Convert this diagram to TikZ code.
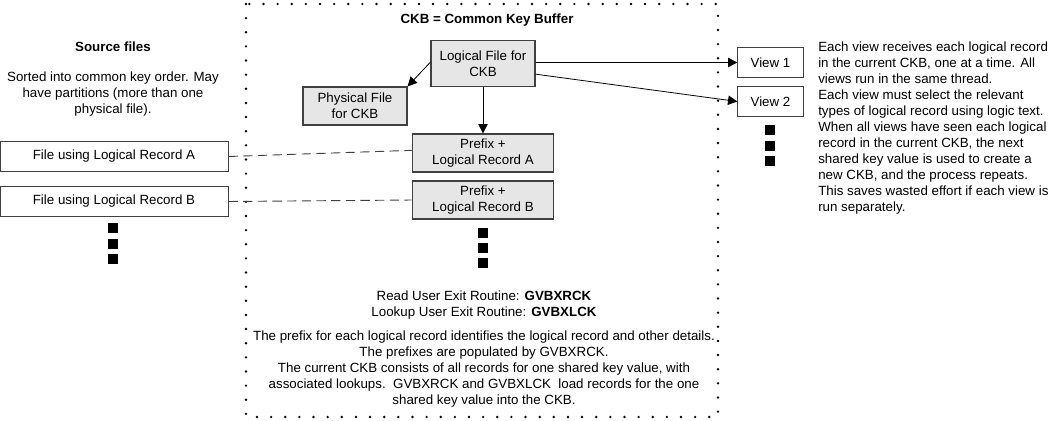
\documentclass[tikz,border=0pt]{standalone}
\usepackage{fontspec}
\setmainfont{Liberation Sans}
\usetikzlibrary{arrows.meta}
\usetikzlibrary{positioning}
\definecolor{boxfill}{RGB}{230,230,230}
\definecolor{boxline}{RGB}{64,64,64}
\tikzset{
  filebox/.style={draw=boxline,fill=boxfill,line width=0.9pt,inner sep=0pt,align=center},
  plainbox/.style={draw=boxline,fill=white,line width=0.7pt,inner sep=0pt,align=center},
  blob/.style={fill=black,inner sep=0pt,minimum size=7.5pt},
  feed/.style={-{Triangle[length=7pt,width=7pt]},line width=0.6pt},
  link/.style={dashed,dash pattern=on 7pt off 4pt,draw=boxline,line width=0.7pt},
}
\begin{document}
\begin{tikzpicture}[x=0.75pt,y=-0.75pt,font=\fontsize{10}{12}\selectfont]
\useasboundingbox (0,0) rectangle (1054,421);

				    % The buffer
				    \draw [dash pattern=on 0pt off 10.6pt,line cap=round,line width=2pt] (246,4) rectangle (718,417);
				    \node (ckb) at (487,20) {\bfseries CKB = Common Key Buffer};

				    % Place nodes
				    \node [filebox,minimum width=78pt,minimum height=35pt] (logical) at (483,63.5) {Logical File for\\CKB};
				    \node [filebox,minimum width=78pt,minimum height=28.5pt] (physical) at (355,106) {Physical File\\for CKB};
				    \node [filebox,minimum width=106pt,minimum height=28.5pt] (recA) at (483,153) {Prefix +\\Logical Record A};
				    \node [filebox,minimum width=106pt,minimum height=28.5pt] (recB) at (483,200) {Prefix +\\Logical Record B};
				    \node [blob] (ma1) at (483,233) {};
				    \node [blob] (ma2) at (483,248) {};
				    \node [blob] (ma3) at (483,263) {};

				    \node [align=center] (exits) at (484,305.5) {Read User Exit Routine: \textbf{GVBXRCK}\\Lookup User Exit Routine: \textbf{GVBXLCK}};
				    \node [align=center] (notes) at (484,369) {The prefix for each logical record identifies the logical record and other details.\\The prefixes are populated by GVBXRCK.\\The current CKB consists of all records for one shared key value, with\\associated lookups.\ \ GVBXRCK and GVBXLCK\ \ load records for the one\\shared key value into the CKB.};

				    % Source files
				    \node (src) at (113,47) {\bfseries Source files};
				    \node [align=center] (srcnote) at (113,94) {Sorted into common key order. May\\have partitions (more than one\\physical file).};
				    \node [plainbox,minimum width=171pt,minimum height=22pt] (fileA) at (114,156.5) {File using Logical Record A};
				    \node [plainbox,minimum width=171pt,minimum height=22pt] (fileB) at (114,201.5) {File using Logical Record B};
				    \node [blob] (mf1) at (113,228) {};
				    \node [blob] (mf2) at (113,243.5) {};
				    \node [blob] (mf3) at (113,259) {};

				    % Views
				    \node [plainbox,minimum width=49pt,minimum height=22pt] (view1) at (770.5,62.5) {View 1};
				    \node [plainbox,minimum width=49pt,minimum height=22pt] (view2) at (770.5,101.5) {View 2};
				    \node [blob] (mv1) at (770,130) {};
				    \node [blob] (mv2) at (770,146) {};
				    \node [blob] (mv3) at (770,161) {};
				    \node [align=left,anchor=north west,inner sep=0pt] (viewnote) at (818,42) {Each view receives each logical record\\in the current CKB, one at a time. All\\views run in the same thread.\\Each view must select the relevant\\types of logical record using logic text.\\When all views have seen each logical\\record in the current CKB, the next\\shared key value is used to create a\\new CKB, and the process repeats.\\This saves wasted effort if each view is\\run separately.};

				    % Connectors
				    \draw [feed] (logical.east |- view1) -- (view1.west);
				    \draw [feed] ([yshift=-8pt]logical.east) -- (view2.west);
				    \draw [feed] ([yshift=1pt]logical.west) -- (physical.north east);
				    \draw [feed] (logical.south) -- (recA.north);
				    \draw [link] (fileA.east) -- ([yshift=2pt]recA.west);
				    \draw [link] (fileB.east) -- (recB.west);

				\end{tikzpicture}
\end{document}
